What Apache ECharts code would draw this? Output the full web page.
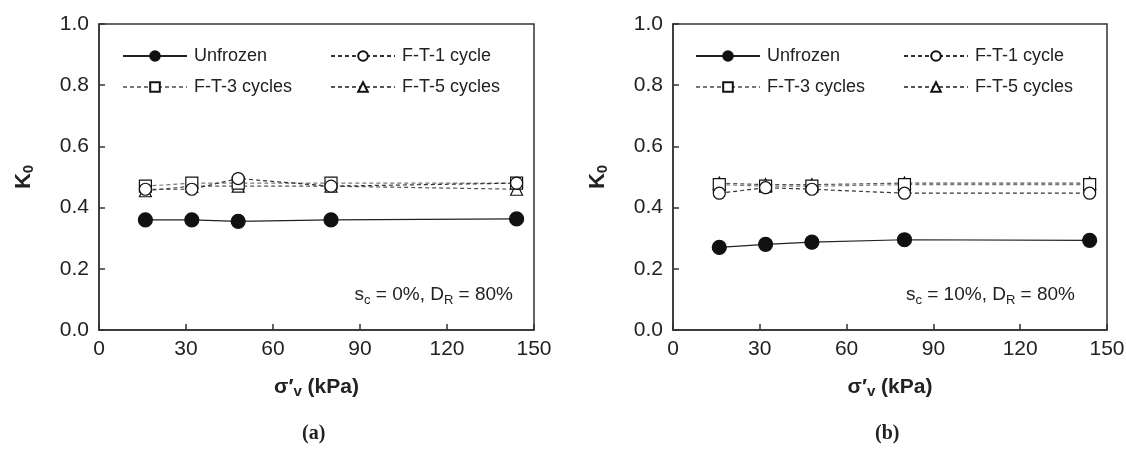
<!DOCTYPE html>
<html><head><meta charset="utf-8">
<script src="https://cdn.jsdelivr.net/npm/echarts@6/dist/echarts.min.js"></script>
<style>html,body{margin:0;padding:0;background:#fff}#c{width:1126px;height:450px}</style>
</head><body><div id="c"></div>
<script>
const xVals = [16, 32, 48, 80, 144];
const xTicks = [0, 30, 60, 90, 120, 150];
const yTicks = [0, 0.2, 0.4, 0.6, 0.8, 1.0];
const seriesNames = ['Unfrozen', 'F-T-1 cycle', 'F-T-3 cycles', 'F-T-5 cycles'];
// panel (a): s_c = 0%
const a_unfrozen = [0.36, 0.36, 0.355, 0.36, 0.363];
const a_ft1 = [0.46, 0.46, 0.495, 0.47, 0.48];
const a_ft3 = [0.47, 0.48, 0.48, 0.48, 0.48];
const a_ft5 = [0.455, 0.47, 0.47, 0.47, 0.46];
// panel (b): s_c = 10%
const b_unfrozen = [0.27, 0.28, 0.287, 0.295, 0.293];
const b_ft1 = [0.447, 0.465, 0.46, 0.447, 0.447];
const b_ft3 = [0.475, 0.47, 0.47, 0.475, 0.475];
const b_ft5 = [0.48, 0.475, 0.475, 0.48, 0.48];
const panelLabels = ['(a)', '(b)'];
const notes = [['0%', '80%'], ['10%', '80%']];

const chart = echarts.init(document.getElementById('c'), null, {renderer: 'canvas'});
const FONT = 'Liberation Sans';
const grids = [
  {left: 99, top: 24, width: 435, height: 306},
  {left: 673, top: 24, width: 434, height: 306}
];
const styles = [
  {symbol: 'circle', size: 14, fill: '#111', line: 'solid', lc: '#222'},
  {symbol: 'circle', size: 12, fill: '#fff', line: [4, 3], lc: '#333'},
  {symbol: 'rect', size: 12, fill: '#fff', line: [4, 3], lc: '#777'},
  {symbol: 'triangle', size: 12, fill: '#fff', line: [4, 3], lc: '#555'}
];
const data = [[a_unfrozen, a_ft1, a_ft3, a_ft5], [b_unfrozen, b_ft1, b_ft3, b_ft5]];
const series = [];
data.forEach((panel, p) => {
  panel.forEach((vals, i) => {
    const s = styles[i];
    series.push({
      name: seriesNames[i], type: 'line', xAxisIndex: p, yAxisIndex: p,
      data: xVals.map((x, k) => [x, vals[k]]),
      symbol: s.symbol, symbolSize: s.size, showSymbol: true,
      lineStyle: {color: s.lc, width: 1.2, type: s.line},
      itemStyle: {color: s.fill, borderColor: '#111', borderWidth: 1.2},
      z: 10 - i, animation: false
    });
  });
});
const xAxes = grids.map((g, p) => ({
  type: 'value', gridIndex: p, min: 0, max: 150, interval: 30,
  axisLine: {lineStyle: {color: '#333', width: 1.5}},
  axisTick: {inside: true, length: 6, lineStyle: {color: '#333', width: 1.5}},
  axisLabel: {fontSize: 21, fontFamily: FONT, color: '#222', margin: 9},
  splitLine: {show: false},
  name: 'σ′{s|v} (kPa)', nameLocation: 'middle', nameGap: 45,
  nameTextStyle: {fontSize: 21, fontWeight: 'bold', fontFamily: FONT, color: '#222', lineHeight: 24,
    rich: {s: {fontSize: 15, fontWeight: 'bold', fontFamily: FONT, color: '#222', lineHeight: 10, verticalAlign: 'bottom'}}}
}));
const yAxes = grids.map((g, p) => ({
  type: 'value', gridIndex: p, min: 0, max: 1, interval: 0.2,
  axisLine: {lineStyle: {color: '#333', width: 1.5}},
  axisTick: {inside: true, length: 6, lineStyle: {color: '#333', width: 1.5}},
  axisLabel: {fontSize: 21, fontFamily: FONT, color: '#222', margin: 10, formatter: v => v.toFixed(1)},
  splitLine: {show: false},
  name: 'K{s|0}', nameLocation: 'middle', nameGap: 63,
  nameTextStyle: {fontSize: 22, fontWeight: 'bold', fontFamily: FONT, color: '#222', lineHeight: 24,
    rich: {s: {fontSize: 15, fontWeight: 'bold', fontFamily: FONT, color: '#222', lineHeight: 10, verticalAlign: 'bottom'}}}
}));
const legendPos = [
  [[122, 47], [330, 47], [122, 78], [330, 78]],
  [[695, 47], [903, 47], [695, 78], [903, 78]]
];
const legends = [];
legendPos.forEach(panel => panel.forEach((pos, i) => {
  legends.push({
    data: [seriesNames[i]], left: pos[0], top: pos[1], itemWidth: 64, itemHeight: 12, itemGap: 0,
    selectedMode: false, padding: 0,
    textStyle: {fontSize: 18, fontFamily: FONT, color: '#222', padding: [0, 0, 0, 2]}
  });
}));
const richNote = {
  a: {fontSize: 19, fontFamily: FONT, fill: '#222', lineHeight: 24},
  s: {fontSize: 13, fontFamily: FONT, fill: '#222', lineHeight: 10, verticalAlign: 'bottom'}
};
const graphics = [];
[[513, 299], [1075, 299]].forEach((pos, p) => {
  graphics.push({
    type: 'text', right: 1126 - pos[0], top: pos[1] - 14,
    style: {text: '{a|s}{s|c}{a| = ' + notes[p][0] + ', D}{s|R}{a| = ' + notes[p][1] + '}', rich: richNote}
  });
});
[[317, 424], [890, 424]].forEach((pos, p) => {
  graphics.push({
    type: 'text', left: pos[0] - 15, top: pos[1],
    style: {text: panelLabels[p], fontSize: 20, fontWeight: 'bold', fontFamily: 'Liberation Serif', fill: '#222'}
  });
});
chart.setOption({
  animation: false,
  grid: grids.map(g => Object.assign({show: true, borderColor: '#333', borderWidth: 1.5, containLabel: false, outerBoundsMode: 'none'}, g)),
  xAxis: xAxes, yAxis: yAxes, legend: legends, series: series, graphic: graphics
});
</script></body></html>
